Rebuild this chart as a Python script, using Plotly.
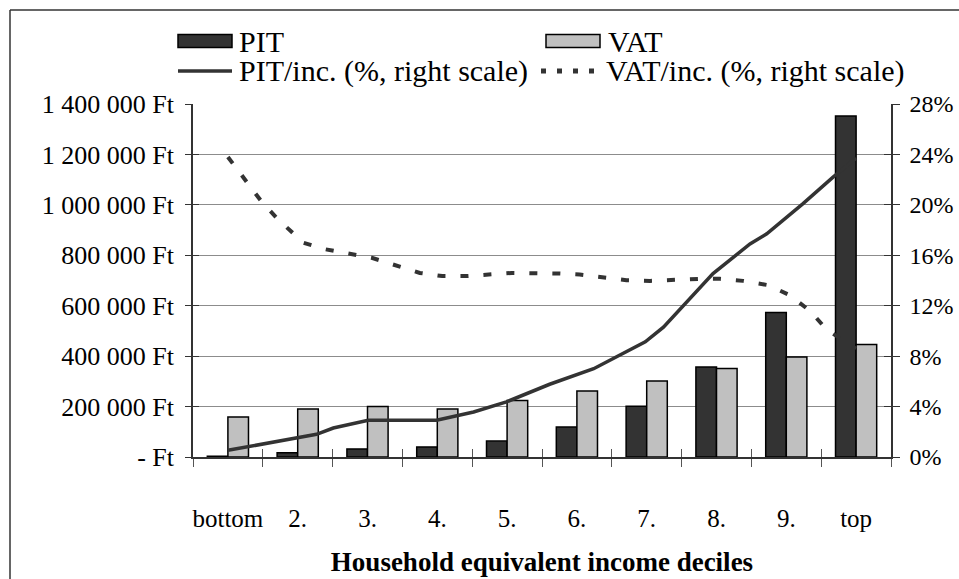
import plotly.graph_objects as go

# ---------------- data ----------------
categories = ["bottom", "2.", "3.", "4.", "5.", "6.", "7.", "8.", "9.", "top"]
pit_ft = [3000, 17000, 32000, 40000, 63000, 119000, 201000, 357000, 573000, 1352000]
vat_ft = [159000, 190000, 200000, 190000, 224000, 262000, 301000, 351000, 397000, 446000]

# line series (x in decile units, 0 = bottom ... 9 = top)
pit_inc_x = [0.0, 1.27, 1.51, 2.01, 2.99, 3.52, 3.99, 4.61, 5.24, 5.62, 5.98, 6.24,
             6.52, 6.95, 7.48, 7.72, 8.24, 8.67, 9.0]
pit_inc_y = [0.53, 1.8, 2.3, 2.91, 2.91, 3.57, 4.37, 5.77, 7.0, 8.07, 9.13, 10.3,
             12.0, 14.55, 16.9, 17.7, 20.1, 22.2, 23.7]
vat_inc_x = [0.0, 0.49, 0.72, 1.08, 1.37, 2.06, 2.75, 3.07, 3.41, 4.07, 4.76, 5.04,
             5.71, 6.05, 6.74, 7.05, 7.38, 7.74, 8.05, 8.34, 8.58, 9.0]
vat_inc_y = [23.8, 20.2, 18.84, 17.0, 16.5, 15.8, 14.6, 14.35, 14.35, 14.6, 14.55, 14.47,
             14.02, 13.97, 14.13, 14.13, 13.97, 13.63, 12.83, 11.59, 10.1, 8.6]

left_ticks = [0, 200000, 400000, 600000, 800000, 1000000, 1200000, 1400000]
left_labels = ["- Ft", "200 000 Ft", "400 000 Ft", "600 000 Ft", "800 000 Ft",
               "1 000 000 Ft", "1 200 000 Ft", "1 400 000 Ft"]
right_ticks = [0, 4, 8, 12, 16, 20, 24, 28]
right_labels = ["0%", "4%", "8%", "12%", "16%", "20%", "24%", "28%"]

legend_names = ["PIT", "VAT", "PIT/inc. (%, right scale)", "VAT/inc. (%, right scale)"]
x_title = "Household equivalent income deciles"

# ---------------- style ----------------
FONT = "Liberation Serif, Times New Roman, serif"
FS_TICK = 26
FS_RIGHT = 24
FS_CAT = 25
FS_TITLE = 27
FS_LEG = 30
DARK = "#333333"
LIGHT = "#c0c0c0"
W, H = 959, 579
L, R, T, B = 193, 891, 104, 457  # plot area pixel box


def px(xp):
    return (xp - L) / (R - L)


def py(yp):
    return (B - yp) / (B - T)


fig = go.Figure()
fig.add_trace(go.Bar(x=categories, y=pit_ft, name=legend_names[0],
                     marker=dict(color=DARK, line=dict(color="black", width=1.5)),
                     showlegend=False))
fig.add_trace(go.Bar(x=categories, y=vat_ft, name=legend_names[1],
                     marker=dict(color=LIGHT, line=dict(color="black", width=1.5)),
                     showlegend=False))
fig.add_trace(go.Scatter(x=pit_inc_x, y=pit_inc_y, name=legend_names[2], mode="lines",
                         line=dict(color=DARK, width=3.5), xaxis="x2", yaxis="y2",
                         showlegend=False))
fig.add_trace(go.Scatter(x=vat_inc_x, y=vat_inc_y, name=legend_names[3], mode="lines",
                         line=dict(color=DARK, width=4, dash="8px,15px"), xaxis="x2",
                         yaxis="y2", showlegend=False))
# dummy traces so the overlay tick axes are drawn
fig.add_trace(go.Scatter(x=[None], y=[None], yaxis="y3", xaxis="x2", showlegend=False,
                         hoverinfo="skip"))
fig.add_trace(go.Scatter(x=[None], y=[None], yaxis="y4", xaxis="x2", showlegend=False,
                         hoverinfo="skip"))

shapes = []
annotations = []
# outer frame (top and left edges visible)
shapes.append(dict(type="line", xref="paper", yref="paper", x0=px(10), x1=px(970),
                   y0=py(10), y1=py(10), line=dict(color=DARK, width=1.5)))
shapes.append(dict(type="line", xref="paper", yref="paper", x0=px(10), x1=px(10),
                   y0=py(10), y1=py(600), line=dict(color=DARK, width=1.5)))

# custom legend
row1, row2 = 41, 71
shapes.append(dict(type="rect", xref="paper", yref="paper", x0=px(178), x1=px(232),
                   y0=py(row1 - 6.5), y1=py(row1 + 6.5), fillcolor=DARK,
                   line=dict(color="black", width=1.5)))
shapes.append(dict(type="rect", xref="paper", yref="paper", x0=px(546), x1=px(600),
                   y0=py(row1 - 6.5), y1=py(row1 + 6.5), fillcolor=LIGHT,
                   line=dict(color="black", width=1.5)))
shapes.append(dict(type="line", xref="paper", yref="paper", x0=px(178), x1=px(232),
                   y0=py(row2), y1=py(row2), line=dict(color=DARK, width=3.5)))
shapes.append(dict(type="line", xref="paper", yref="paper", x0=px(541), x1=px(602),
                   y0=py(row2), y1=py(row2), line=dict(color=DARK, width=5, dash="5px,11px")))
for name, xp, yp in [(legend_names[0], 237, row1), (legend_names[1], 606, row1),
                     (legend_names[2], 237, row2), (legend_names[3], 604, row2)]:
    annotations.append(dict(text=name, xref="paper", yref="paper", x=px(xp), y=py(yp),
                            xanchor="left", yanchor="middle", showarrow=False,
                            font=dict(family=FONT, size=FS_LEG, color="black")))

fig.update_layout(
    width=W, height=H, autosize=False,
    margin=dict(l=L, r=W - R, t=T, b=H - B, pad=0),
    paper_bgcolor="white", plot_bgcolor="white",
    font=dict(family=FONT, size=FS_TICK, color="black"),
    barmode="group", bargap=0.41, bargroupgap=0,
    showlegend=False,
    shapes=shapes, annotations=annotations,
    xaxis=dict(type="category", categoryorder="array", categoryarray=categories,
               range=[-0.5, 9.5], showline=True, linecolor=DARK, linewidth=1.5,
               ticks="outside", tickson="boundaries", ticklen=8, tickcolor="#555555",
               tickwidth=1, showgrid=False, ticklabelstandoff=38, tickangle=0,
               tickfont=dict(family=FONT, size=FS_CAT),
               title=dict(text="<b>" + x_title + "</b>", standoff=21,
                          font=dict(family=FONT, size=FS_TITLE)),
               automargin=False),
    xaxis2=dict(overlaying="x", side="bottom", range=[-0.5, 9.5],
                tickvals=[0.5, 1.5, 2.5, 3.5, 4.5, 5.5, 6.5, 7.5, 8.5],
                ticks="inside", ticklen=8, tickcolor="#555555", tickwidth=1,
                showticklabels=False, showline=False, showgrid=False, zeroline=False,
                automargin=False),
    yaxis=dict(range=[0, 1400000], tickvals=left_ticks, ticktext=left_labels,
               showgrid=True, gridcolor="#8c8c8c", gridwidth=1, zeroline=False,
               showline=True, linecolor=DARK, linewidth=1.5, ticks="outside",
               ticklen=6, tickcolor=DARK, ticklabelstandoff=6, automargin=False),
    yaxis2=dict(range=[0, 28], tickvals=right_ticks, ticktext=right_labels,
                overlaying="y", side="right", showgrid=False, zeroline=False,
                showline=True, linecolor=DARK, linewidth=1.5, ticks="outside",
                ticklen=7, tickcolor=DARK, ticklabelstandoff=5,
                tickfont=dict(family=FONT, size=FS_RIGHT), automargin=False),
    yaxis3=dict(range=[0, 28], tickvals=right_ticks, overlaying="y", side="left",
                showgrid=False, zeroline=False, showline=False, ticks="inside",
                ticklen=6, tickcolor=DARK, showticklabels=False, automargin=False),
    yaxis4=dict(range=[0, 28], tickvals=right_ticks, overlaying="y", side="right",
                showgrid=False, zeroline=False, showline=False, ticks="inside",
                ticklen=7, tickcolor=DARK, showticklabels=False, automargin=False),
)

fig.write_html("out.html", config={"displayModeBar": False},
               post_script="document.body.style.margin='0px';")
